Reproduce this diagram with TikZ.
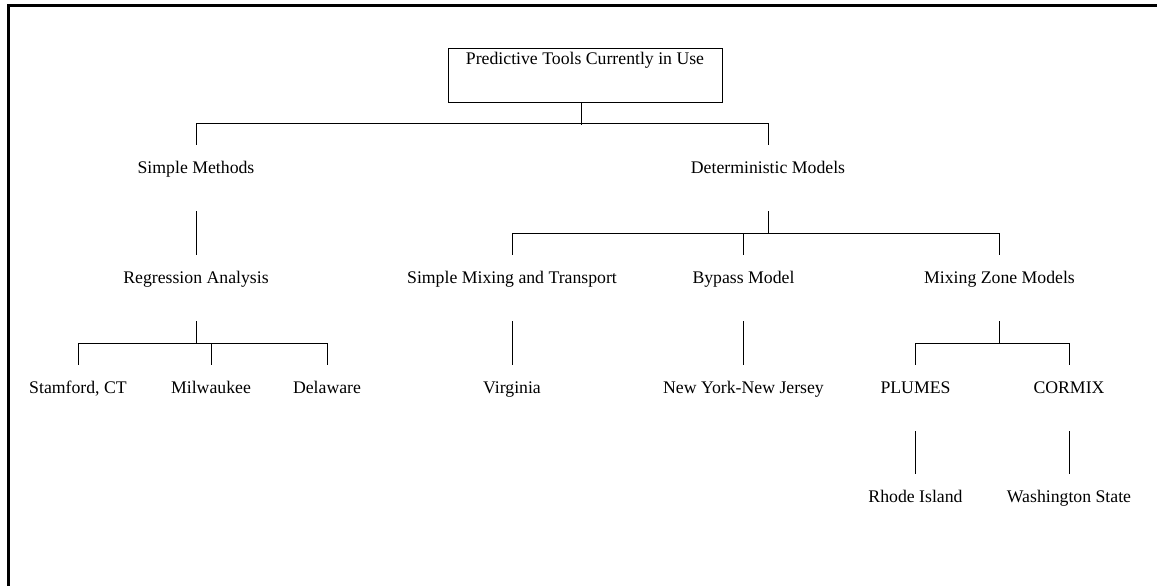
\documentclass[tikz,border=0pt]{standalone}
\usepackage{fontspec}
\setmainfont{Liberation Serif}
\usetikzlibrary{positioning,calc}
\tikzset{
  lbl/.style={anchor=base,inner sep=0pt,font=\fontsize{13.3}{16}\selectfont},
  ln/.style={line width=0.75pt,black}
}
\begin{document}
\begin{tikzpicture}[x=0.75pt,y=-0.75pt]
    \useasboundingbox (0,0) rectangle (1157,586);
    % frame
    \draw[line width=2.25pt] (1157,5.5) -- (8.5,5.5) -- (8.5,586);
    %
    \node[draw,line width=0.75pt,minimum width=274*0.75pt,inner xsep=0pt,inner ysep=0pt,
          text height=12pt,text depth=28.5pt,anchor=north,
          font=\fontsize{13.3}{16}\selectfont](root) at (585,48){Predictive Tools Currently in Use};
    \node[lbl](sm) at (196,173){Simple Methods};
    \node[lbl](dm) at (768,173){Deterministic Models};
    \node[lbl](ra) at (196,283){Regression Analysis};
    \node[lbl](smt) at (512,283){Simple Mixing and Transport};
    \node[lbl](bm) at (743.5,283){Bypass Model};
    \node[lbl](mzm) at (999.5,283){Mixing Zone Models};
    \node[lbl](st) at (78,393){Stamford, CT};
    \node[lbl](mi) at (211,393){Milwaukee};
    \node[lbl](de) at (327,393){Delaware};
    \node[lbl](va) at (512,393){Virginia};
    \node[lbl](ny) at (743.5,393){New York-New Jersey};
    \node[lbl](pl) at (915.5,393){PLUMES};
    \node[lbl](co) at (1069,393){CORMIX};
    \node[lbl](ri) at (915.5,502){Rhode Island};
    \node[lbl](ws) at (1069,502){Washington State};
    %
    % branches
    \draw[ln] ([xshift=-3.5*0.75pt]root.south) -- ++(0,22);
    \draw[ln] ($(sm.base)+(0,-50)$) -- ($(dm.base)+(0,-50)$);
    \foreach \c in {sm,dm}
      \draw[ln] ($(\c.base)+(0,-50)$) -- ($(\c.base)+(0,-28)$);
    \draw[ln] ($(dm.base)+(0,38)$) -- ++(0,22);
    \draw[ln] ($(smt.base)+(0,-50)$) -- ($(mzm.base)+(0,-50)$);
    \foreach \c in {smt,bm,mzm}
      \draw[ln] ($(\c.base)+(0,-50)$) -- ($(\c.base)+(0,-28)$);
    \draw[ln] ($(ra.base)+(0,38)$) -- ++(0,22);
    \draw[ln] ($(st.base)+(0,-50)$) -- ($(de.base)+(0,-50)$);
    \foreach \c in {st,mi,de}
      \draw[ln] ($(\c.base)+(0,-50)$) -- ($(\c.base)+(0,-28)$);
    \draw[ln] ($(mzm.base)+(0,38)$) -- ++(0,22);
    \draw[ln] ($(pl.base)+(0,-50)$) -- ($(co.base)+(0,-50)$);
    \foreach \c in {pl,co}
      \draw[ln] ($(\c.base)+(0,-50)$) -- ($(\c.base)+(0,-28)$);
    % single stems
    \draw[ln] ($(sm.base)+(0,38)$) -- ($(ra.base)+(0,-28)$);
    \draw[ln] ($(smt.base)+(0,38)$) -- ($(va.base)+(0,-28)$);
    \draw[ln] ($(bm.base)+(0,38)$) -- ($(ny.base)+(0,-28)$);
    \draw[ln] ($(pl.base)+(0,38)$) -- ($(ri.base)+(0,-28)$);
    \draw[ln] ($(co.base)+(0,38)$) -- ($(ws.base)+(0,-28)$);
\end{tikzpicture}
\end{document}
